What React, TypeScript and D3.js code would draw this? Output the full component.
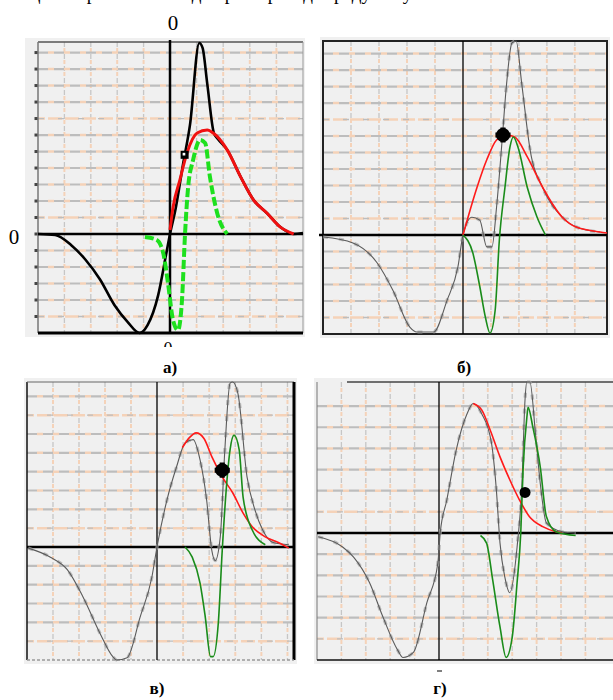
import React from 'react';
import * as d3 from 'd3';

type Pt = [number, number];

// ---- data (x in grid units, y relative to the trough = -1) ----

// panel а)
const aBlack: Pt[] = [
  [-10, 0], [-8.7, -0.01], [-7.5, -0.11], [-6.4, -0.26], [-5.3, -0.46], [-4.2, -0.72],
  [-3.2, -0.89], [-2.3, -1.0], [-1.7, -0.92], [-0.9, -0.62], [-0.3, -0.21], [0, 0],
  [0.4, 0.24], [1.0, 0.72], [1.5, 1.1], [2.2, 1.93], [2.45, 1.88], [2.8, 1.52],
  [3.3, 1.02], [3.6, 0.96], [4.3, 0.85], [5.3, 0.58], [6.3, 0.34], [7.3, 0.21],
  [8.3, 0.07], [9.3, 0.0], [10, 0.01],
];
const aRed: Pt[] = [
  [0, 0.04], [0.23, 0.27], [0.75, 0.55], [1.28, 0.82], [2.04, 1.02], [2.8, 1.05],
  [3.25, 1.02], [4.3, 0.85], [5.3, 0.58], [6.3, 0.34], [7.3, 0.21], [8.3, 0.07], [9.3, 0.0],
];
const aGreen: Pt[] = [
  [-1.9, -0.03], [-1.0, -0.06], [-0.5, -0.2], [-0.15, -0.5], [0.23, -0.87], [0.6, -0.97],
  [0.9, -0.67], [1.13, 0], [1.36, 0.47], [1.74, 0.75], [2.26, 0.95], [2.64, 0.92],
  [3.0, 0.58], [3.55, 0.21], [4.3, 0],
];
const aMarker: Pt = [1.1, 0.8];

// panel б)
const bGrey: Pt[] = [
  [-10, -0.02], [-7.86, -0.08], [-6.14, -0.28], [-5, -0.56], [-3.8, -0.93], [-3.3, -0.98],
  [-2.1, -0.98], [-1.14, -0.66], [-0.36, -0.32], [0, 0], [0.64, 0.18], [1.2, 0.15],
  [1.7, -0.12], [2.07, -0.12], [2.4, 0.28], [2.8, 0.96], [3.1, 1.5], [3.5, 1.94],
  [3.8, 1.96], [4.2, 1.53], [4.8, 0.86], [5.7, 0.48], [7.1, 0.18], [8.1, 0.08], [9.8, 0.03],
];
const bRed: Pt[] = [
  [0, 0], [1.0, 0.48], [1.7, 0.76], [2.4, 0.96], [3.1, 1.01], [3.7, 0.99], [4.6, 0.79],
  [5.7, 0.48], [7.1, 0.18], [8.1, 0.08], [9.8, 0.03], [10.3, 0.02],
];
const bGreen: Pt[] = [
  [0, 0], [0.7, -0.18], [1.2, -0.52], [1.6, -0.83], [1.93, -0.99], [2.3, -0.76],
  [2.6, -0.05], [3.0, 0.48], [3.36, 0.89], [3.6, 0.99], [3.93, 0.89], [4.6, 0.48],
  [5.3, 0.18], [5.9, 0],
];
const bMarker: Pt = [2.86, 1.01];

// panel в)
const cGrey: Pt[] = [
  [-9.9, -0.01], [-8.2, -0.09], [-6.9, -0.2], [-5.7, -0.44], [-4.4, -0.76], [-3.4, -0.97],
  [-3.1, -1.0], [-2.3, -0.98], [-1.3, -0.62], [-0.4, -0.27], [0, 0], [0.77, 0.42],
  [1.5, 0.71], [2.15, 0.92], [2.77, 0.95], [3.3, 0.77], [3.8, 0.42], [4.2, -0.03],
  [4.46, -0.12], [4.85, 0.09], [5.2, 0.86], [5.6, 1.45], [5.8, 1.46], [6.2, 1.36],
  [6.9, 0.62], [7.5, 0.33], [8.1, 0.15], [8.9, 0.04], [10.1, 0.02],
];
const cRed: Pt[] = [
  [1.95, 0.88], [2.5, 0.97], [3.0, 1.01], [3.6, 0.96], [4.2, 0.8], [5.0, 0.62], [5.8, 0.48],
  [6.6, 0.3], [7.3, 0.18], [8.3, 0.09], [9.3, 0.04], [10.1, -0.01],
];
const cGreen: Pt[] = [
  [2.15, 0], [2.7, -0.09], [3.3, -0.32], [3.7, -0.62], [4.1, -0.97], [4.3, -0.97],
  [4.7, -0.67], [5.0, -0.03], [5.3, 0.5], [5.6, 0.86], [5.9, 0.99], [6.3, 0.86],
  [6.6, 0.44], [7.3, 0.15], [8.3, 0.02],
];
const cMarker: Pt = [5.0, 0.68];

// panel г)
const dGrey: Pt[] = [
  [-9.9, -0.03], [-7.9, -0.11], [-7.0, -0.19], [-5.7, -0.39], [-4.6, -0.66], [-3.4, -0.92],
  [-2.95, -0.98], [-2.1, -0.94], [-1.0, -0.55], [-0.1, -0.24], [0.1, 0], [0.64, 0.26],
  [1.4, 0.65], [2.3, 0.94], [2.8, 1.02], [3.5, 0.94], [4.3, 0.71], [4.7, 0.34],
  [5.0, -0.08], [5.4, -0.35], [5.8, -0.47], [6.4, -0.11], [6.8, 0.39], [7.05, 1.05],
  [7.2, 1.19], [7.45, 1.19], [7.9, 0.79], [8.3, 0.39], [8.8, 0.08], [10.1, 0.01], [11.2, 0],
];
const dRed: Pt[] = [
  [2.8, 1.02], [3.5, 0.97], [4.2, 0.81], [5.0, 0.6], [5.8, 0.42], [6.6, 0.26], [7.4, 0.13],
  [8.5, 0.05], [9.6, 0.01], [10.1, 0],
];
const dGreen: Pt[] = [
  [3.4, -0.02], [3.9, -0.08], [4.4, -0.37], [5.0, -0.74], [5.5, -0.98], [6.0, -0.82],
  [6.4, -0.39], [6.7, 0], [6.9, 0.52], [7.2, 0.91], [7.3, 0.99], [7.7, 0.83], [8.3, 0.52],
  [8.8, 0.13], [9.6, 0.01], [11.2, -0.02],
];
const dMarker: Pt = [7.05, 0.32];

const panelLabels = ['а)', 'б)', 'в)', 'г)'];
const zeroLabel = '0';
const captionLine = 'Осциллограмма на входе при переходе градусов усилителя';

// ---- layout ----
type Frame = {
  xd: number[]; xr: number[]; yd: number[]; yr: number[];
  label: [number, number];
};

const frames: Frame[] = [
  { xd: [-10, 0, 10], xr: [38, 170, 303], yd: [-1, 0, 1.94], yr: [333, 234, 42], label: [170, 373] },
  { xd: [-10, 0, 10.3], xr: [323, 463, 607], yd: [-1, 0, 1.96], yr: [334, 235, 41], label: [464, 373] },
  { xd: [-10, 0, 10.5], xr: [27, 157, 294], yd: [-1, 0, 1.46], yr: [660, 547, 382], label: [157, 694] },
  { xd: [-10, 0, 14.26], xr: [317, 439, 613], yd: [-1, 0, 1.19], yr: [660, 533, 382], label: [440, 694] },
];

const serif = "'Liberation Serif', 'Times New Roman', serif";
const GREY_BG = '#f0f0f0';
const PEACH = '#f5d2b8';
const GRID = '#bdbdbd';

function Grid({ f, x, y }: { f: Frame; x: d3.ScaleLinear<number, number>; y: d3.ScaleLinear<number, number> }) {
  const [x0, , x1] = f.xr;
  const [y1, , y0] = f.yr;
  const gy = d3.range(-5, 12).filter(k => k !== 0 && k / 6 < f.yd[2] - 0.05).map(k => k / 6);
  const gx = d3.range(-8, 15, 2).filter(v => v !== 0 && v < f.xd[2] - 0.3);
  return (
    <g>
      {gx.map(v => (
        <g key={'x' + v}>
          <line x1={x(v)} x2={x(v)} y1={y0} y2={y1} stroke={PEACH} strokeWidth={2} strokeDasharray="4 8" strokeDashoffset={-6} />
          <line x1={x(v)} x2={x(v)} y1={y0} y2={y1} stroke="#c6c6c6" strokeWidth={1.3} strokeDasharray="5 7" />
        </g>
      ))}
      {gy.map((v, i) => {
        const k = Math.round(v * 6);
        const warm = k === 7 || k === -5 || k === 1;
        return (
          <g key={'y' + i}>
            <line x1={x0} x2={x1} y1={y(v)} y2={y(v)} stroke={PEACH} strokeWidth={2.5} strokeDasharray={warm ? '14 3' : '6 10'} strokeDashoffset={-10} />
            <line x1={x0} x2={x1} y1={y(v)} y2={y(v)} stroke={GRID} strokeWidth={warm ? 1.3 : 2.2} strokeDasharray={warm ? '6 14' : '10 6'} />
          </g>
        );
      })}
    </g>
  );
}

function Marker({ cx, cy, r, spiky, square }: { cx: number; cy: number; r: number; spiky?: boolean; square?: boolean }) {
  if (square) {
    return (
      <g transform={`translate(${cx},${cy})`}>
        <rect x={-r} y={-r} width={2 * r} height={2 * r} fill="#000" />
        <rect x={-r / 2} y={-r / 2} width={r / 1.5} height={r / 1.5} fill="#fff" />
      </g>
    );
  }
  const cross = d3.symbol().type(d3.symbolCross).size(r * r * 2.6)();
  return (
    <g transform={`translate(${cx},${cy})`}>
      <circle r={r} fill="#000" />
      {spiky && <path d={cross || ''} fill="#000" />}
    </g>
  );
}

function Panel({ f, idx, grey, black, red, green, marker }: {
  f: Frame; idx: number; grey?: Pt[]; black?: Pt[]; red: Pt[]; green: Pt[]; marker: Pt;
}) {
  const x = d3.scaleLinear().domain(f.xd).range(f.xr);
  const y = d3.scaleLinear().domain(f.yd).range(f.yr);
  const line = d3.line<Pt>().x(d => x(d[0])).y(d => y(d[1])).curve(d3.curveMonotoneX);
  const [x0, xa, x1] = f.xr;
  const [yb, yz, yt] = f.yr;
  const first = idx === 0;
  return (
    <g>
      <rect x={x0 - (first ? 13 : 3)} y={yt - 4} width={x1 - x0 + (first ? 15 : 6)} height={yb - yt + 8} fill={GREY_BG} />
      <Grid f={f} x={x} y={y} />
      {/* frame */}
      {idx === 0 && (
        <g>
          <line x1={x0} x2={x1} y1={yt} y2={yt} stroke="#555" strokeWidth={1.5} />
          <line x1={x0} x2={x0} y1={yt} y2={yb} stroke="#777" strokeWidth={1.5} />
          <line x1={x1} x2={x1} y1={yt} y2={yb} stroke="#999" strokeWidth={1} />
          <line x1={x0} x2={x1} y1={yb} y2={yb} stroke="#000" strokeWidth={3} />
          {d3.range(-5, 12).map(k => (
            <rect key={k} x={x0 - 3.5} y={y(k / 6) - 1.5} width={3} height={3} fill="#444" />
          ))}
        </g>
      )}
      {idx === 1 && <rect x={x0} y={yt} width={x1 - x0} height={yb - yt} fill="none" stroke="#222" strokeWidth={2} />}
      {idx === 2 && (
        <g>
          <line x1={x0} x2={x0} y1={yt} y2={yb} stroke="#111" strokeWidth={1.5} />
          <line x1={x0} x2={x1} y1={yt} y2={yt} stroke="#666" strokeWidth={1} />
          <line x1={x1} x2={x1} y1={yt} y2={yb} stroke="#000" strokeWidth={3} />
          <line x1={x0} x2={x1} y1={yb} y2={yb} stroke="#999" strokeWidth={1.5} strokeDasharray="3 2" />
        </g>
      )}
      {idx === 3 && (
        <g>
          <line x1={x0} x2={x0} y1={yt} y2={yb} stroke="#777" strokeWidth={1} />
          <line x1={x0 + 30} x2={x1} y1={yt} y2={yt} stroke="#444" strokeWidth={1.5} />
          <line x1={x0} x2={x1} y1={yb} y2={yb} stroke="#111" strokeWidth={1.5} />
        </g>
      )}
      {/* axes */}
      <line x1={x0 - (idx === 1 ? 4 : 0)} x2={x1} y1={yz} y2={yz} stroke="#000" strokeWidth={2.5} />
      <line x1={xa} x2={xa} y1={yt - (first ? 2 : 0)} y2={yb} stroke="#000" strokeWidth={first ? 2.5 : 1.3} />
      {/* traces */}
      {grey && (
        <g fill="none">
          <path d={line(grey) || ''} stroke="#a8a8a8" strokeWidth={3.2} strokeDasharray="5 11" opacity={0.75} />
          <path d={line(grey) || ''} stroke="#5a5a5a" strokeWidth={1.1} />
        </g>
      )}
      {black && <path d={line(black) || ''} fill="none" stroke="#000" strokeWidth={2.6} />}
      {first ? (
        <g fill="none">
          <path d={line(green) || ''} stroke="#1ee01e" strokeWidth={4} strokeDasharray="9 3" />
          <path d={line(red) || ''} stroke="#f01010" strokeWidth={3} />
        </g>
      ) : (
        <g fill="none">
          <path d={line(red) || ''} stroke="#ff1a1a" strokeWidth={1.6} />
          <path d={line(green) || ''} stroke="#1a8c1a" strokeWidth={1.6} />
        </g>
      )}
      <Marker
        cx={x(marker[0])}
        cy={y(marker[1])}
        r={first ? 4 : idx === 3 ? 5.5 : 7}
        spiky={idx === 1 || idx === 2}
        square={first}
      />
      <text x={f.label[0]} y={f.label[1]} textAnchor="middle" fontFamily={serif} fontWeight="bold" fontSize={17}>
        {panelLabels[idx]}
      </text>
    </g>
  );
}

export default function App() {
  return (
    <svg width={613} height={700} style={{ position: 'absolute', left: 0, top: 0, background: '#fff' }}>
      <text x={8} y={0} fontFamily={serif} fontSize={19} fill="#000">{captionLine}</text>
      <Panel f={frames[0]} idx={0} black={aBlack} red={aRed} green={aGreen} marker={aMarker} />
      <Panel f={frames[1]} idx={1} grey={bGrey} red={bRed} green={bGreen} marker={bMarker} />
      <Panel f={frames[2]} idx={2} grey={cGrey} red={cRed} green={cGreen} marker={cMarker} />
      <Panel f={frames[3]} idx={3} grey={dGrey} red={dRed} green={dGreen} marker={dMarker} />
      <text x={173} y={30} textAnchor="middle" fontFamily={serif} fontSize={21}>{zeroLabel}</text>
      <text x={14} y={244} textAnchor="middle" fontFamily={serif} fontSize={21}>{zeroLabel}</text>
      <text x={168} y={355} textAnchor="middle" fontFamily={serif} fontSize={18}>{zeroLabel}</text>
      <rect x={155} y={347} width={30} height={12} fill="#fff" />
      <line x1={437} x2={442} y1={671} y2={671} stroke="#555" strokeWidth={1.5} />
    </svg>
  );
}
